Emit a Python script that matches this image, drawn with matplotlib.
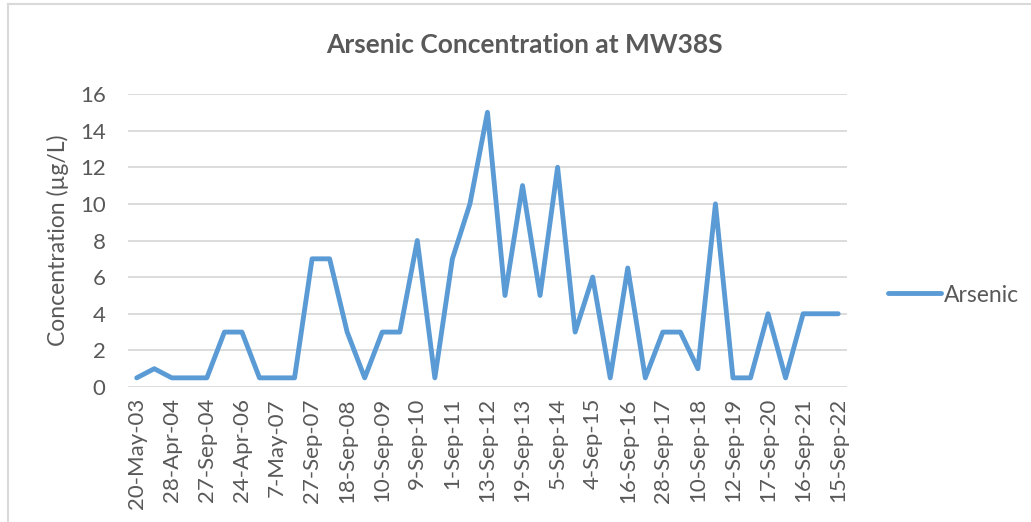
import matplotlib
matplotlib.use("Agg")
import matplotlib.pyplot as plt
from matplotlib.lines import Line2D

plt.rcParams["font.family"] = ["Lato", "DejaVu Sans"]

# sampling rounds, only every other one gets a tick label
date_labels = ["20-May-03", "28-Apr-04", "27-Sep-04", "24-Apr-06", "7-May-07",
               "27-Sep-07", "18-Sep-08", "10-Sep-09", "9-Sep-10", "1-Sep-11",
               "13-Sep-12", "19-Sep-13", "5-Sep-14", "4-Sep-15", "16-Sep-16",
               "28-Sep-17", "10-Sep-18", "12-Sep-19", "17-Sep-20", "16-Sep-21",
               "15-Sep-22"]

arsenic = [0.5, 1, 0.5, 0.5, 0.5, 3, 3, 0.5, 0.5, 0.5,
           7, 7, 3, 0.5, 3, 3, 8, 0.5, 7, 10,
           15, 5, 11, 5, 12, 3, 6, 0.5, 6.5, 0.5,
           3, 3, 1, 10, 0.5, 0.5, 4, 0.5, 4, 4, 4]

grey = "#595959"
blue = "#5B9BD5"

fig = plt.figure(figsize=(10.31, 5.22), dpi=100)
ax = fig.add_axes([0.1241, 0.2586, 0.6974, 0.5613])

idx = list(range(len(arsenic)))
ax.plot(idx, arsenic, color=blue, lw=3.5, solid_joinstyle="round",
        solid_capstyle="round", label="Arsenic")

ax.set_xlim(-0.5, len(arsenic) - 0.5)
ax.set_ylim(0, 16)
ax.set_yticks(range(0, 17, 2))
ax.set_xticks(idx[::2])
ax.set_xticklabels(date_labels, rotation=90)

ax.grid(axis="y", color="#d9d9d9", lw=1.3)
ax.set_axisbelow(True)
for s in ax.spines.values():
    s.set_visible(False)
ax.tick_params(axis="both", length=0, labelsize=16, labelcolor=grey)
ax.tick_params(axis="y", pad=16)
ax.tick_params(axis="x", pad=8)

ax.set_ylabel("Concentration (µg/L)", fontsize=16.5, color=grey, labelpad=8)
fig.text(0.509, 0.914, "Arsenic Concentration at MW38S", ha="center",
         va="center", fontsize=19, fontweight="bold", color=grey)

leg = ax.legend(loc="center left", bbox_to_anchor=(1.029, 0.314), frameon=False,
                fontsize=16.5, handlelength=2.3, handletextpad=0.1)
for t in leg.get_texts():
    t.set_color(grey)

# outer chart border (left and top edges)
fig.add_artist(Line2D([0.0075, 0.0075], [0, 0.992], color="#d9d9d9", lw=1.5))
fig.add_artist(Line2D([0.0075, 1], [0.992, 0.992], color="#d9d9d9", lw=1.5))

fig.savefig("out.png", dpi=100)
